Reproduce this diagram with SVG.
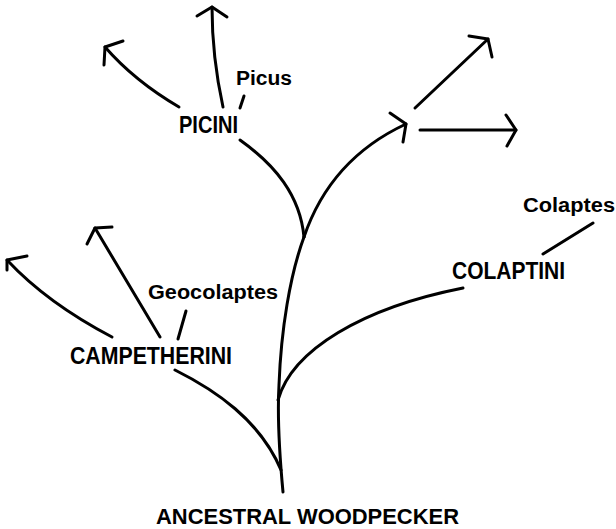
<svg xmlns="http://www.w3.org/2000/svg" width="616" height="529" viewBox="0 0 616 529">
<style>
.ln{fill:none;stroke:#000;stroke-width:3;stroke-linecap:round;stroke-linejoin:round}
.cap{font-family:"Liberation Sans",Arial,sans-serif;font-weight:bold;font-size:23px;fill:#000}
.sm{font-family:"Liberation Sans",Arial,sans-serif;font-weight:bold;font-size:20px;fill:#000}
</style>
<rect width="616" height="529" fill="#fff"/>
<g id="connectors">
<path class="ln" d="M283,492 C280,460 277,420 279,385 C281,330 290,275 304,237"/>
<path class="ln" d="M175,370 C215,390 260,420 281,470"/>
<path class="ln" d="M278,400 C292,350 362,308 463,288"/>
<path class="ln" d="M304,237 C300,195 275,165 240,140"/>
<path class="ln" d="M304,237 C320,190 350,150 406,124"/>
<path class="ln" d="M390,113 L406,124 L403,142"/>
<path class="ln" d="M415,108 L488,39"/>
<path class="ln" d="M469,36 L488,39 L492,57"/>
<path class="ln" d="M420,130 L516,130"/>
<path class="ln" d="M506,115 L516,130 L507,146"/>
<path class="ln" d="M179,107 C150,90 125,70 105,47"/>
<path class="ln" d="M123,41 L105,47 L104,65"/>
<path class="ln" d="M223,107 C216,75 212,40 212,7"/>
<path class="ln" d="M197,16 L212,7 L227,17"/>
<path class="ln" d="M244,96 L240,108"/>
<path class="ln" d="M112,337 C70,315 35,290 7,260"/>
<path class="ln" d="M27,256 L7,260 L7,270"/>
<path class="ln" d="M160,337 L95,228"/>
<path class="ln" d="M112,227 L95,228 L87,244"/>
<path class="ln" d="M186,311 L178,339"/>
<path class="ln" d="M593,223 L543,254"/>
</g>
<g id="picini"><text class="cap" x="179" y="133" textLength="59" lengthAdjust="spacingAndGlyphs">PICINI</text></g>
<g id="picus"><text class="sm" x="236" y="85" textLength="56" lengthAdjust="spacingAndGlyphs">Picus</text></g>
<g id="geocolaptes"><text class="sm" x="148" y="299" textLength="130" lengthAdjust="spacingAndGlyphs">Geocolaptes</text></g>
<g id="campetherini"><text class="cap" x="70" y="364" textLength="162" lengthAdjust="spacingAndGlyphs">CAMPETHERINI</text></g>
<g id="colaptini"><text class="cap" x="452" y="279" textLength="113" lengthAdjust="spacingAndGlyphs">COLAPTINI</text></g>
<g id="colaptes"><text class="sm" x="523" y="212" textLength="92" lengthAdjust="spacingAndGlyphs">Colaptes</text></g>
<g id="ancestral"><text class="cap" x="156" y="524" style="font-size:22px" textLength="303" lengthAdjust="spacingAndGlyphs">ANCESTRAL WOODPECKER</text></g>
</svg>
